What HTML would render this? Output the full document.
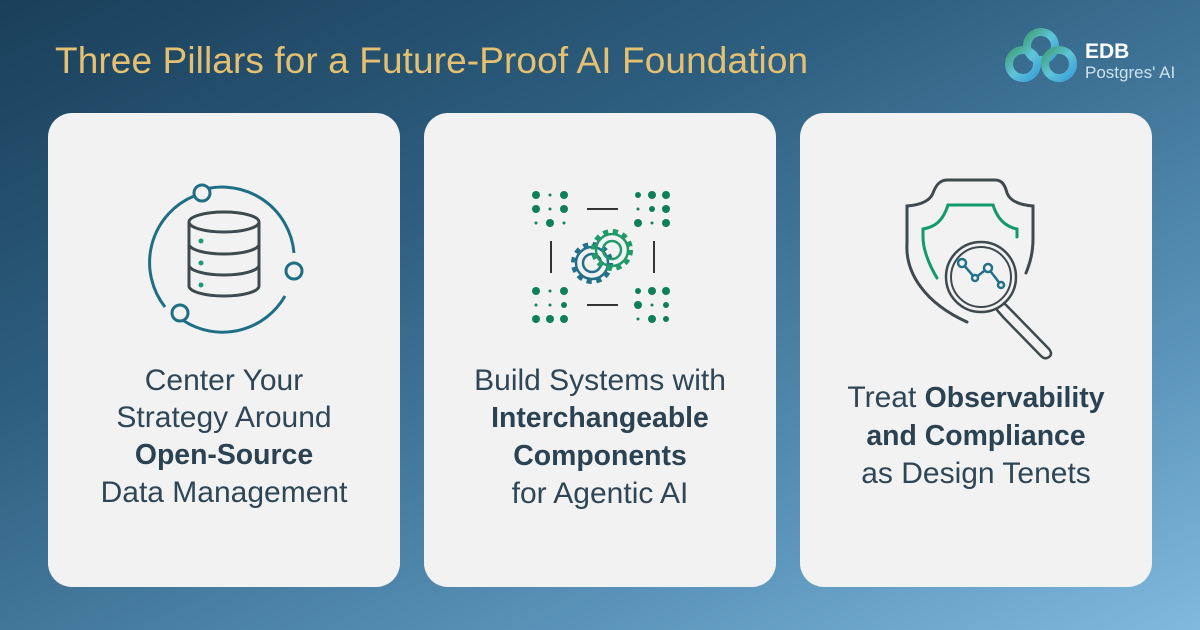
<!DOCTYPE html>
<html><head><style>
body{margin:0;width:1200px;height:630px;overflow:hidden;background:linear-gradient(155deg,#1a3f5a 0%,#2e5f80 35%,#5a93b9 75%,#80b9dd 100%);font-family:"Liberation Sans",sans-serif;position:relative}
.t{position:absolute;left:55px;top:40px;color:#e6c071;font-size:37px;letter-spacing:0.1px}
.card{position:absolute;top:113px;width:352px;height:474px;background:#f2f2f2;border-radius:24px}
.tx{position:absolute;left:0;width:100%;text-align:center;color:#2f4656;font-size:30px;line-height:37px}
b{font-weight:bold;color:#2b4252;font-size:28.4px}
svg{position:absolute;left:0;top:0}
</style></head><body>
<div class="t">Three Pillars for a Future-Proof AI Foundation</div>
<svg width="1200" height="630">
<defs><linearGradient id="lg" x1="0" y1="0" x2="1" y2="1"><stop offset="0" stop-color="#3fa07a"/><stop offset=".5" stop-color="#5fc4d8"/><stop offset="1" stop-color="#3a9fd6"/></linearGradient></defs>
<g fill="none" stroke="url(#lg)" stroke-width="8"><circle cx="1041" cy="46" r="14"/><circle cx="1023" cy="64" r="14"/><circle cx="1059" cy="64" r="14"/></g>
<text x="1085" y="58" fill="#fff" font-size="21" font-weight="bold" font-family="Liberation Sans">EDB</text>
<text x="1085" y="78" fill="#cde3f0" font-size="17" font-family="Liberation Sans">Postgres' AI</text>
</svg>
<div class="card" style="left:48px">
<svg width="352" height="474">
<g fill="none" stroke="#1f6e85" stroke-width="3">
<path d="M148 79 A72 72 0 0 1 246 140"/><path d="M237 183 A72 72 0 0 1 136 208"/><path d="M117 194 A72 72 0 0 1 146 83"/>
<circle cx="154" cy="80" r="8" fill="#f2f2f2"/><circle cx="246" cy="158" r="8" fill="#f2f2f2"/><circle cx="132" cy="200" r="8" fill="#f2f2f2"/>
</g>
<g fill="none" stroke="#3e4a4e" stroke-width="3">
<ellipse cx="176" cy="109" rx="35" ry="10"/><path d="M141 109V173A35 10 0 0 0 211 173V109"/><path d="M141 131A35 10 0 0 0 211 131M141 152A35 10 0 0 0 211 152"/>
</g>
<g fill="#1f9a78"><circle cx="153" cy="128" r="2.5"/><circle cx="153" cy="150" r="2.5"/><circle cx="153" cy="172" r="2.5"/></g>
</svg>
<div class="tx" style="top:249px">Center Your<br>Strategy Around<br><b>Open-Source</b><br>Data Management</div>
</div>
<div class="card" style="left:424px">
<svg width="352" height="474">
<g fill="#0f7f5a">
<circle cx="112" cy="82" r="4"/><circle cx="126" cy="82" r="1.5"/><circle cx="140" cy="82" r="4"/><circle cx="112" cy="96" r="4"/><circle cx="126" cy="96" r="1.5"/><circle cx="140" cy="96" r="4"/><circle cx="112" cy="110" r="1.5"/><circle cx="126" cy="110" r="4"/><circle cx="140" cy="110" r="1.5"/>
<circle cx="214" cy="82" r="3"/><circle cx="228" cy="82" r="4"/><circle cx="242" cy="82" r="4"/><circle cx="214" cy="96" r="1.5"/><circle cx="228" cy="96" r="3"/><circle cx="242" cy="96" r="4"/><circle cx="214" cy="110" r="4"/><circle cx="228" cy="110" r="1.5"/><circle cx="242" cy="110" r="4"/>
<circle cx="112" cy="178" r="4"/><circle cx="126" cy="178" r="1.5"/><circle cx="140" cy="178" r="4"/><circle cx="112" cy="192" r="1.5"/><circle cx="126" cy="192" r="1.5"/><circle cx="140" cy="192" r="3"/><circle cx="112" cy="206" r="4"/><circle cx="126" cy="206" r="4"/><circle cx="140" cy="206" r="4"/>
<circle cx="214" cy="178" r="3"/><circle cx="228" cy="178" r="4"/><circle cx="242" cy="178" r="4"/><circle cx="214" cy="192" r="4"/><circle cx="228" cy="192" r="1.5"/><circle cx="242" cy="192" r="3"/><circle cx="214" cy="206" r="1.5"/><circle cx="228" cy="206" r="4"/><circle cx="242" cy="206" r="3"/>
</g>
<g stroke="#333" stroke-width="2"><path d="M163 96H194M163 192H194M127 128V160M230 128V160"/></g>
<g fill="none">
<circle cx="168" cy="150" r="18" stroke="#23708a" stroke-width="6" stroke-dasharray="5 4.5"/><circle cx="168" cy="150" r="16" stroke="#23708a" stroke-width="2.5" fill="#f2f2f2"/><circle cx="168" cy="150" r="9" stroke="#23708a" stroke-width="2.5"/>
<circle cx="188" cy="137" r="18" stroke="#1f9a68" stroke-width="6" stroke-dasharray="5 4.5"/><circle cx="188" cy="137" r="16" stroke="#1f9a68" stroke-width="2.5" fill="none"/><circle cx="188" cy="137" r="9" stroke="#1f9a68" stroke-width="2.5"/>
</g>
</svg>
<div class="tx" style="top:249px">Build Systems with<br><b>Interchangeable</b><br><b>Components</b><br>for Agentic AI</div>
</div>
<div class="card" style="left:800px">
<svg width="352" height="474">
<g fill="none" stroke-linecap="round">
<path d="M167 209C125 190 105 160 107 130V93C120 92 130 88 133 80C136 72 140 67 147 67H195C202 67 205 72 207 80C210 88 220 92 233 93V125C233 140 230 150 226 160" stroke="#3e4a4e" stroke-width="3"/>
<path d="M137 165C128 150 123 135 123 124V116C135 114 143 108 148 92H193C198 108 207 114 217 116V124" stroke="#129a6e" stroke-width="3"/>
<circle cx="181" cy="164" r="35" stroke="#3e4a4e" stroke-width="2.5" fill="#f2f2f2"/><circle cx="181" cy="164" r="30" stroke="#3e4a4e" stroke-width="2"/>
<path d="M204 190L211 197L249 236Q253 241 249 244Q245 247 241 243L203 204L197 197" stroke="#3e4a4e" stroke-width="2.5"/>
<path d="M162 150L175 165L188 155L201 172" stroke="#23708a" stroke-width="2.5"/>
<circle cx="162" cy="150" r="4" stroke="#23708a" stroke-width="2.5" fill="#f2f2f2"/><circle cx="175" cy="165" r="3" stroke="#23708a" stroke-width="2.5" fill="#f2f2f2"/><circle cx="188" cy="155" r="4" stroke="#23708a" stroke-width="2.5" fill="#f2f2f2"/><circle cx="201" cy="172" r="3" stroke="#23708a" stroke-width="2.5" fill="#f2f2f2"/>
</g>
</svg>
<div class="tx" style="top:266px">Treat <b>Observability</b><br><b>and Compliance</b><br>as Design Tenets</div>
</div>
</body></html>
